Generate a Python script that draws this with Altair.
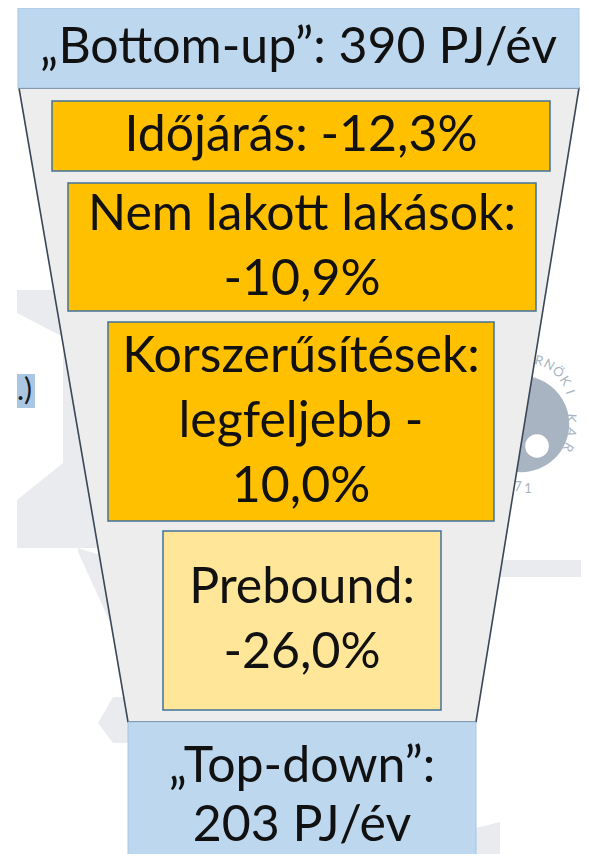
import altair as alt
import pandas as pd

# ---- content ----
header_text = "„Bottom-up”: 390 PJ/év"
footer_lines = ["„Top-down”:", "203 PJ/év"]
step_lines = [
    ["Időjárás: -12,3%"],
    ["Nem lakott lakások:", "-10,9%"],
    ["Korszerűsítések:", "legfeljebb -", "10,0%"],
    ["Prebound:", "-26,0%"],
]
step_kind = ["main", "main", "main", "light"]

# ---- layout (page pixel units mapped through linear scales) ----
box_x1 = [52, 68, 108, 163]
box_x2 = [550, 536, 494, 441]
box_y1 = [101, 183, 322, 531]
box_y2 = [171, 311, 521, 710]
line_gap = 65

header_box = dict(x=18, x2=579, y=8, y2=88)
footer_box = dict(x=128, x2=476, y=722, y2=870)
funnel_y = [88, 722]
funnel_left = [19, 128]
funnel_right = [579, 476]

W, H = 573, 846
xs = alt.Scale(domain=[8, 8 + W], nice=False, zero=False)
ys = alt.Scale(domain=[8, 8 + H], nice=False, zero=False, reverse=True)

def X(f="x"):
    return alt.X(f"{f}:Q", scale=xs, axis=None)

def Y(f="y"):
    return alt.Y(f"{f}:Q", scale=ys, axis=None)

WM = "#e9ebee"

def vpoly(xv, ylo, yhi, color):
    d = pd.DataFrame({"x": xv, "y": ylo, "y2": yhi})
    return alt.Chart(d).mark_area(orient="vertical", color=color, opacity=1).encode(
        x=X(), y=Y(), y2="y2:Q")

# faint background watermark shapes
wm_left = vpoly([17, 98, 112], [290, 290, 290], [548, 548, 560], WM)
wm_left2 = vpoly([78, 100, 118], [548, 555, 620], [552, 600, 640], WM)
wm_notch = vpoly([17, 63], [313, 337], [500, 463], "white")
wm_diam = vpoly([98, 113, 132], [723, 697, 697], [723, 743, 743], WM)
wm_right = vpoly([480, 581], [560, 560], [577, 577], WM)
wm_right2 = vpoly([476, 500], [828, 822], [854, 854], WM)

# watermark logo
logo = pd.DataFrame({"x": [521], "y": [424]})
logo_outer = alt.Chart(logo).mark_circle(color="#a9b4c2", opacity=1, size=9300).encode(x=X(), y=Y())
logo_inner = alt.Chart(pd.DataFrame({"x": [537], "y": [446]})).mark_circle(
    color="white", opacity=1, size=560).encode(x=X(), y=Y())
logo_letters = ["R", "N", "Ö", "K", "I", "K", "A", "R", "7", "1"]
logo_lx = [539, 549, 558, 565, 570, 571, 571, 568, 518, 528]
logo_ly = [361, 365, 372, 381, 392, 418, 432, 447, 487, 489]
logo_ang = [15, 30, 45, 58, 70, 95, 108, 120, 0, 0]
logo_txt = alt.Chart(pd.DataFrame({"x": logo_lx, "y": logo_ly, "t": logo_letters, "a": logo_ang})).mark_text(
    font="Lato", fontSize=13, color="#a9b4c2").encode(
    x=X(), y=Y(), text="t:N", angle=alt.Angle("a:Q", scale=None))

# side label fragment
side = pd.DataFrame({"x": [17], "x2": [35], "y": [374], "y2": [408], "t": [".)"]})
side_rect = alt.Chart(side).mark_rect(color="#a9c7e3").encode(x=X(), x2="x2:Q", y=Y(), y2="y2:Q")
side_txt = alt.Chart(side).mark_text(font="Lato", fontSize=30, color="#1a1a1a", align="left", dx=0).encode(
    x=X(), y=alt.Y("m:Q", scale=ys, axis=None), text="t:N").transform_calculate(m="(datum.y + datum.y2) / 2")

# funnel
fun = pd.DataFrame({"y": funnel_y, "x": funnel_left, "x2": funnel_right})
funnel = alt.Chart(fun).mark_area(orient="horizontal", color="#ededed", stroke="#3b4656", strokeWidth=1.6).encode(
    y=Y(), x=X(), x2="x2:Q")

# header/footer boxes
hf = pd.DataFrame([header_box, footer_box])
hf_rect = alt.Chart(hf).mark_rect(color="#bdd7ee", stroke="#a6c6e4", strokeWidth=1).encode(
    x=X(), x2="x2:Q", y=Y(), y2="y2:Q")

# step boxes
steps = pd.DataFrame({"x": box_x1, "x2": box_x2, "y": box_y1, "y2": box_y2, "kind": step_kind})
step_rect = alt.Chart(steps).mark_rect(stroke="#41719c", strokeWidth=1.5).encode(
    x=X(), x2="x2:Q", y=Y(), y2="y2:Q",
    color=alt.Color("kind:N", scale=alt.Scale(domain=["main", "light"], range=["#ffc000", "#ffe699"]), legend=None))

# texts
rows = []
for i, lines in enumerate(step_lines):
    cx = (box_x1[i] + box_x2[i]) / 2
    cy = (box_y1[i] + box_y2[i]) / 2
    n = len(lines)
    for j, s in enumerate(lines):
        rows.append({"x": cx, "y": cy + (j - (n - 1) / 2) * line_gap, "t": s})
rows.append({"x": (header_box["x"] + header_box["x2"]) / 2, "y": 48, "t": header_text})
fcx = (footer_box["x"] + footer_box["x2"]) / 2
for j, s in enumerate(footer_lines):
    rows.append({"x": fcx, "y": 767 + j * 59, "t": s})
txt = alt.Chart(pd.DataFrame(rows)).mark_text(
    font="Lato", fontSize=50, color="#111111", align="center", baseline="middle").encode(
    x=X(), y=Y(), text="t:N")

chart = alt.layer(
    wm_left, wm_left2, wm_notch, wm_diam, wm_right, wm_right2,
    logo_outer, logo_inner, logo_txt, side_rect, side_txt, funnel, hf_rect, step_rect, txt
).properties(width=W, height=H, background="white", padding=0, autosize=alt.AutoSizeParams(type="none")
).configure_view(stroke=None)

chart.save("out.html", embed_options={"renderer": "svg", "actions": False})
